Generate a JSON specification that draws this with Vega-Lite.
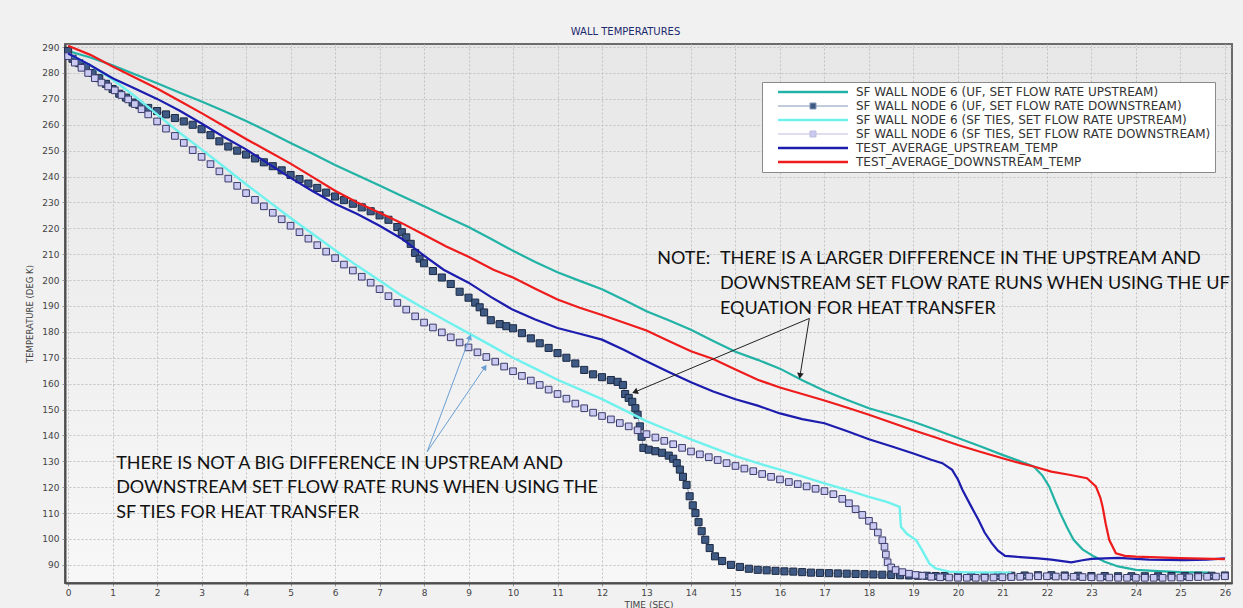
{
  "$schema": "https://vega.github.io/schema/vega-lite/v6.json",
  "width": 1167,
  "height": 539,
  "autosize": {"type": "none"},
  "padding": {"left": 65, "top": 44, "right": 11, "bottom": 25},
  "background": "#f1f1f1",
  "title": {"text": "WALL TEMPERATURES", "anchor": "middle", "offset": 4, "dx": -23, "font": "DejaVu Sans", "fontSize": 10, "fontWeight": "normal", "color": "#1c2a6e"},
  "config": {
    "view": {"stroke": "#6b6b6b", "strokeWidth": 2, "fill": {"gradient": "linear", "x1": 0, "y1": 0, "x2": 0, "y2": 1, "stops": [{"offset": 0, "color": "#e7e7e7"}, {"offset": 1, "color": "#f7f7f7"}]}},
    "axis": {"labelFont": "DejaVu Sans", "labelFontSize": 9, "labelColor": "#444444", "tickSize": 3, "tickColor": "#999999", "domainColor": "#4d4d4d", "domainWidth": 2, "gridColor": "#c2c2c2", "gridDash": [2, 2], "gridWidth": 1, "titleFont": "DejaVu Sans", "titleFontWeight": "normal", "titleColor": "#444444"}
  },
  "datasets": {
    "curves": [
      {"series":"UF_UP","time":0,"temp":288.5},{"series":"UF_UP","time":0.5,"temp":286},{"series":"UF_UP","time":1,"temp":283},{"series":"UF_UP","time":1.5,"temp":279.5},{"series":"UF_UP","time":2,"temp":276},{"series":"UF_UP","time":2.5,"temp":272.5},{"series":"UF_UP","time":3,"temp":269},{"series":"UF_UP","time":3.5,"temp":265.3},{"series":"UF_UP","time":4,"temp":261.5},{"series":"UF_UP","time":4.5,"temp":257.3},{"series":"UF_UP","time":5,"temp":253},{"series":"UF_UP","time":5.5,"temp":248.8},{"series":"UF_UP","time":6,"temp":244.5},{"series":"UF_UP","time":6.5,"temp":240.5},{"series":"UF_UP","time":7,"temp":236.5},{"series":"UF_UP","time":7.5,"temp":232.5},{"series":"UF_UP","time":8,"temp":228.5},{"series":"UF_UP","time":8.5,"temp":224.5},{"series":"UF_UP","time":9,"temp":220.5},{"series":"UF_UP","time":9.5,"temp":216},{"series":"UF_UP","time":10,"temp":211.3},{"series":"UF_UP","time":10.5,"temp":207},{"series":"UF_UP","time":11,"temp":203},{"series":"UF_UP","time":11.5,"temp":199.7},{"series":"UF_UP","time":12,"temp":196.5},{"series":"UF_UP","time":12.5,"temp":192.3},{"series":"UF_UP","time":13,"temp":188},{"series":"UF_UP","time":13.5,"temp":184.5},{"series":"UF_UP","time":14,"temp":180.8},{"series":"UF_UP","time":14.5,"temp":176.5},{"series":"UF_UP","time":15,"temp":172.3},{"series":"UF_UP","time":15.5,"temp":169.2},{"series":"UF_UP","time":16,"temp":165.8},{"series":"UF_UP","time":16.5,"temp":161.3},{"series":"UF_UP","time":17,"temp":157.3},{"series":"UF_UP","time":17.5,"temp":153.8},{"series":"UF_UP","time":18,"temp":150.5},{"series":"UF_UP","time":18.5,"temp":148},{"series":"UF_UP","time":19,"temp":145.3},{"series":"UF_UP","time":19.5,"temp":142.2},{"series":"UF_UP","time":20,"temp":139},{"series":"UF_UP","time":20.5,"temp":135.8},{"series":"UF_UP","time":21,"temp":132.5},{"series":"UF_UP","time":21.4,"temp":130},{"series":"UF_UP","time":21.7,"temp":128},{"series":"UF_UP","time":21.9,"temp":124.5},{"series":"UF_UP","time":22.05,"temp":120.3},{"series":"UF_UP","time":22.2,"temp":114},{"series":"UF_UP","time":22.3,"temp":110},{"series":"UF_UP","time":22.45,"temp":104.5},{"series":"UF_UP","time":22.6,"temp":99.7},{"series":"UF_UP","time":22.8,"temp":96},{"series":"UF_UP","time":23.05,"temp":93.3},{"series":"UF_UP","time":23.3,"temp":91.2},{"series":"UF_UP","time":23.6,"temp":89.4},{"series":"UF_UP","time":24,"temp":88.1},{"series":"UF_UP","time":24.5,"temp":87.6},{"series":"UF_UP","time":25,"temp":87.2},{"series":"UF_UP","time":25.65,"temp":87},
      {"series":"UF_DOWN","time":0,"temp":288.5},{"series":"UF_DOWN","time":0.1,"temp":285.5},{"series":"UF_DOWN","time":0.25,"temp":283.8},{"series":"UF_DOWN","time":0.4,"temp":282.3},{"series":"UF_DOWN","time":0.55,"temp":280},{"series":"UF_DOWN","time":0.7,"temp":278},{"series":"UF_DOWN","time":0.85,"temp":275.8},{"series":"UF_DOWN","time":1,"temp":273.8},{"series":"UF_DOWN","time":1.15,"temp":272},{"series":"UF_DOWN","time":1.3,"temp":270.5},{"series":"UF_DOWN","time":1.45,"temp":268.6},{"series":"UF_DOWN","time":1.6,"temp":267.6},{"series":"UF_DOWN","time":1.8,"temp":266.5},{"series":"UF_DOWN","time":2,"temp":265.3},{"series":"UF_DOWN","time":2.2,"temp":264},{"series":"UF_DOWN","time":2.4,"temp":262.6},{"series":"UF_DOWN","time":2.6,"temp":261.3},{"series":"UF_DOWN","time":2.8,"temp":260},{"series":"UF_DOWN","time":3,"temp":258.3},{"series":"UF_DOWN","time":3.2,"temp":256},{"series":"UF_DOWN","time":3.4,"temp":253.6},{"series":"UF_DOWN","time":3.6,"temp":251.6},{"series":"UF_DOWN","time":3.8,"temp":250},{"series":"UF_DOWN","time":4,"temp":248.5},{"series":"UF_DOWN","time":4.2,"temp":247},{"series":"UF_DOWN","time":4.4,"temp":245.5},{"series":"UF_DOWN","time":4.6,"temp":244},{"series":"UF_DOWN","time":4.8,"temp":242.4},{"series":"UF_DOWN","time":5,"temp":240.6},{"series":"UF_DOWN","time":5.2,"temp":239},{"series":"UF_DOWN","time":5.4,"temp":237.3},{"series":"UF_DOWN","time":5.6,"temp":235.6},{"series":"UF_DOWN","time":5.8,"temp":233.8},{"series":"UF_DOWN","time":6,"temp":232.3},{"series":"UF_DOWN","time":6.2,"temp":230.9},{"series":"UF_DOWN","time":6.4,"temp":229.5},{"series":"UF_DOWN","time":6.6,"temp":228.1},{"series":"UF_DOWN","time":6.8,"temp":226.6},{"series":"UF_DOWN","time":7,"temp":225},{"series":"UF_DOWN","time":7.2,"temp":223.3},{"series":"UF_DOWN","time":7.4,"temp":220.5},{"series":"UF_DOWN","time":7.5,"temp":218.5},{"series":"UF_DOWN","time":7.6,"temp":216.5},{"series":"UF_DOWN","time":7.7,"temp":214},{"series":"UF_DOWN","time":7.8,"temp":210.5},{"series":"UF_DOWN","time":7.9,"temp":208.3},{"series":"UF_DOWN","time":8,"temp":206.5},{"series":"UF_DOWN","time":8.2,"temp":203.5},{"series":"UF_DOWN","time":8.4,"temp":201},{"series":"UF_DOWN","time":8.6,"temp":198.5},{"series":"UF_DOWN","time":8.8,"temp":195.5},{"series":"UF_DOWN","time":9,"temp":193.2},{"series":"UF_DOWN","time":9.15,"temp":191.3},{"series":"UF_DOWN","time":9.25,"temp":189.5},{"series":"UF_DOWN","time":9.35,"temp":187.5},{"series":"UF_DOWN","time":9.5,"temp":184.5},{"series":"UF_DOWN","time":9.7,"temp":183},{"series":"UF_DOWN","time":9.85,"temp":182.2},{"series":"UF_DOWN","time":10,"temp":181.4},{"series":"UF_DOWN","time":10.2,"temp":179.5},{"series":"UF_DOWN","time":10.4,"temp":177.5},{"series":"UF_DOWN","time":10.6,"temp":175.6},{"series":"UF_DOWN","time":10.8,"temp":173.8},{"series":"UF_DOWN","time":11,"temp":171.8},{"series":"UF_DOWN","time":11.2,"temp":170},{"series":"UF_DOWN","time":11.4,"temp":167.8},{"series":"UF_DOWN","time":11.6,"temp":165.3},{"series":"UF_DOWN","time":11.8,"temp":163.6},{"series":"UF_DOWN","time":12,"temp":162.5},{"series":"UF_DOWN","time":12.2,"temp":161.4},{"series":"UF_DOWN","time":12.35,"temp":160.7},{"series":"UF_DOWN","time":12.47,"temp":159.5},{"series":"UF_DOWN","time":12.52,"temp":156},{"series":"UF_DOWN","time":12.6,"temp":154.5},{"series":"UF_DOWN","time":12.68,"temp":153},{"series":"UF_DOWN","time":12.75,"temp":150.5},{"series":"UF_DOWN","time":12.8,"temp":148},{"series":"UF_DOWN","time":12.85,"temp":143.5},{"series":"UF_DOWN","time":12.89,"temp":139.5},{"series":"UF_DOWN","time":12.93,"temp":135.2},{"series":"UF_DOWN","time":13.05,"temp":134.5},{"series":"UF_DOWN","time":13.2,"temp":133.9},{"series":"UF_DOWN","time":13.35,"temp":133.3},{"series":"UF_DOWN","time":13.5,"temp":132.2},{"series":"UF_DOWN","time":13.6,"temp":131},{"series":"UF_DOWN","time":13.68,"temp":129.3},{"series":"UF_DOWN","time":13.75,"temp":126.8},{"series":"UF_DOWN","time":13.82,"temp":124},{"series":"UF_DOWN","time":13.9,"temp":120.9},{"series":"UF_DOWN","time":13.97,"temp":116.5},{"series":"UF_DOWN","time":14.04,"temp":113},{"series":"UF_DOWN","time":14.1,"temp":110},{"series":"UF_DOWN","time":14.17,"temp":106.5},{"series":"UF_DOWN","time":14.24,"temp":103},{"series":"UF_DOWN","time":14.32,"temp":99.7},{"series":"UF_DOWN","time":14.42,"temp":96.5},{"series":"UF_DOWN","time":14.54,"temp":93.3},{"series":"UF_DOWN","time":14.7,"temp":91.5},{"series":"UF_DOWN","time":14.9,"temp":90},{"series":"UF_DOWN","time":15.1,"temp":89.2},{"series":"UF_DOWN","time":15.3,"temp":88.5},{"series":"UF_DOWN","time":15.5,"temp":88.1},{"series":"UF_DOWN","time":15.7,"temp":87.9},{"series":"UF_DOWN","time":15.9,"temp":87.7},{"series":"UF_DOWN","time":16.1,"temp":87.5},{"series":"UF_DOWN","time":16.3,"temp":87.4},{"series":"UF_DOWN","time":16.5,"temp":87.2},{"series":"UF_DOWN","time":16.7,"temp":87},{"series":"UF_DOWN","time":16.9,"temp":86.9},{"series":"UF_DOWN","time":17.1,"temp":86.8},{"series":"UF_DOWN","time":17.3,"temp":86.7},{"series":"UF_DOWN","time":17.5,"temp":86.6},{"series":"UF_DOWN","time":17.7,"temp":86.5},{"series":"UF_DOWN","time":17.9,"temp":86.4},{"series":"UF_DOWN","time":18.1,"temp":86.3},{"series":"UF_DOWN","time":18.3,"temp":86.2},{"series":"UF_DOWN","time":18.5,"temp":86.1},{"series":"UF_DOWN","time":18.7,"temp":86},{"series":"UF_DOWN","time":18.9,"temp":85.9},{"series":"UF_DOWN","time":19.1,"temp":85.8},{"series":"UF_DOWN","time":19.3,"temp":85.8},{"series":"UF_DOWN","time":19.5,"temp":85.7},{"series":"UF_DOWN","time":19.7,"temp":85.7},{"series":"UF_DOWN","time":20,"temp":85.7},{"series":"UF_DOWN","time":20.3,"temp":85.6},{"series":"UF_DOWN","time":20.6,"temp":85.7},{"series":"UF_DOWN","time":20.9,"temp":85.8},{"series":"UF_DOWN","time":21.2,"temp":85.8},{"series":"UF_DOWN","time":21.5,"temp":85.9},{"series":"UF_DOWN","time":21.8,"temp":86},{"series":"UF_DOWN","time":22.1,"temp":86},{"series":"UF_DOWN","time":22.4,"temp":85.9},{"series":"UF_DOWN","time":22.7,"temp":85.8},{"series":"UF_DOWN","time":23,"temp":85.7},{"series":"UF_DOWN","time":23.3,"temp":85.7},{"series":"UF_DOWN","time":23.6,"temp":85.6},{"series":"UF_DOWN","time":23.9,"temp":85.6},{"series":"UF_DOWN","time":24.2,"temp":85.6},{"series":"UF_DOWN","time":24.5,"temp":85.6},{"series":"UF_DOWN","time":24.8,"temp":85.7},{"series":"UF_DOWN","time":25.1,"temp":85.7},{"series":"UF_DOWN","time":25.4,"temp":85.8},{"series":"UF_DOWN","time":25.7,"temp":85.8},{"series":"UF_DOWN","time":26,"temp":85.9},
      {"series":"SF_UP","time":0,"temp":287.5},{"series":"SF_UP","time":0.5,"temp":283},{"series":"SF_UP","time":1,"temp":277.5},{"series":"SF_UP","time":1.5,"temp":271},{"series":"SF_UP","time":2,"temp":264},{"series":"SF_UP","time":2.5,"temp":257},{"series":"SF_UP","time":3,"temp":250.5},{"series":"SF_UP","time":3.5,"temp":243.8},{"series":"SF_UP","time":4,"temp":237},{"series":"SF_UP","time":4.5,"temp":230.5},{"series":"SF_UP","time":5,"temp":224},{"series":"SF_UP","time":5.5,"temp":217.8},{"series":"SF_UP","time":6,"temp":211.5},{"series":"SF_UP","time":6.5,"temp":205.5},{"series":"SF_UP","time":7,"temp":199.8},{"series":"SF_UP","time":7.5,"temp":194},{"series":"SF_UP","time":8,"temp":189},{"series":"SF_UP","time":8.5,"temp":184.2},{"series":"SF_UP","time":9,"temp":179.5},{"series":"SF_UP","time":9.5,"temp":174.8},{"series":"SF_UP","time":10,"temp":170},{"series":"SF_UP","time":10.5,"temp":165.8},{"series":"SF_UP","time":11,"temp":161.5},{"series":"SF_UP","time":11.5,"temp":157.8},{"series":"SF_UP","time":12,"temp":154},{"series":"SF_UP","time":12.5,"temp":149.8},{"series":"SF_UP","time":13,"temp":145.5},{"series":"SF_UP","time":13.5,"temp":142},{"series":"SF_UP","time":14,"temp":138.5},{"series":"SF_UP","time":14.5,"temp":135.2},{"series":"SF_UP","time":15,"temp":132},{"series":"SF_UP","time":15.5,"temp":129.3},{"series":"SF_UP","time":16,"temp":126.8},{"series":"SF_UP","time":16.5,"temp":124.2},{"series":"SF_UP","time":17,"temp":121.5},{"series":"SF_UP","time":17.5,"temp":119},{"series":"SF_UP","time":18,"temp":116.3},{"series":"SF_UP","time":18.4,"temp":114.3},{"series":"SF_UP","time":18.69,"temp":112.4},{"series":"SF_UP","time":18.72,"temp":104.7},{"series":"SF_UP","time":18.85,"temp":102},{"series":"SF_UP","time":19.06,"temp":99.6},{"series":"SF_UP","time":19.2,"temp":95.5},{"series":"SF_UP","time":19.36,"temp":90.5},{"series":"SF_UP","time":19.5,"temp":88.6},{"series":"SF_UP","time":19.8,"temp":87.4},{"series":"SF_UP","time":20.2,"temp":87.1},{"series":"SF_UP","time":20.6,"temp":87.1},{"series":"SF_UP","time":21.2,"temp":87},
      {"series":"SF_DOWN","time":0,"temp":286.5},{"series":"SF_DOWN","time":0.15,"temp":284},{"series":"SF_DOWN","time":0.3,"temp":282},{"series":"SF_DOWN","time":0.45,"temp":280},{"series":"SF_DOWN","time":0.6,"temp":278},{"series":"SF_DOWN","time":0.75,"temp":276.3},{"series":"SF_DOWN","time":0.9,"temp":274.8},{"series":"SF_DOWN","time":1.05,"temp":273.3},{"series":"SF_DOWN","time":1.2,"temp":271.5},{"series":"SF_DOWN","time":1.35,"temp":269.8},{"series":"SF_DOWN","time":1.5,"temp":268},{"series":"SF_DOWN","time":1.65,"temp":266},{"series":"SF_DOWN","time":1.8,"temp":264},{"series":"SF_DOWN","time":2,"temp":261.3},{"series":"SF_DOWN","time":2.2,"temp":258.5},{"series":"SF_DOWN","time":2.4,"temp":255.7},{"series":"SF_DOWN","time":2.6,"temp":253},{"series":"SF_DOWN","time":2.8,"temp":250.2},{"series":"SF_DOWN","time":3,"temp":247.6},{"series":"SF_DOWN","time":3.2,"temp":244.8},{"series":"SF_DOWN","time":3.4,"temp":242},{"series":"SF_DOWN","time":3.6,"temp":239.2},{"series":"SF_DOWN","time":3.8,"temp":236.4},{"series":"SF_DOWN","time":4,"temp":233.6},{"series":"SF_DOWN","time":4.2,"temp":231},{"series":"SF_DOWN","time":4.4,"temp":228.5},{"series":"SF_DOWN","time":4.6,"temp":226},{"series":"SF_DOWN","time":4.8,"temp":223.5},{"series":"SF_DOWN","time":5,"temp":221},{"series":"SF_DOWN","time":5.2,"temp":218.5},{"series":"SF_DOWN","time":5.4,"temp":216},{"series":"SF_DOWN","time":5.6,"temp":213.5},{"series":"SF_DOWN","time":5.8,"temp":211},{"series":"SF_DOWN","time":6,"temp":208.5},{"series":"SF_DOWN","time":6.2,"temp":206},{"series":"SF_DOWN","time":6.4,"temp":203.7},{"series":"SF_DOWN","time":6.6,"temp":201.3},{"series":"SF_DOWN","time":6.8,"temp":199},{"series":"SF_DOWN","time":7,"temp":196.5},{"series":"SF_DOWN","time":7.2,"temp":193.8},{"series":"SF_DOWN","time":7.4,"temp":191.2},{"series":"SF_DOWN","time":7.6,"temp":188.6},{"series":"SF_DOWN","time":7.8,"temp":186},{"series":"SF_DOWN","time":8,"temp":183.6},{"series":"SF_DOWN","time":8.2,"temp":181.7},{"series":"SF_DOWN","time":8.4,"temp":179.8},{"series":"SF_DOWN","time":8.6,"temp":177.9},{"series":"SF_DOWN","time":8.8,"temp":175.9},{"series":"SF_DOWN","time":9,"temp":174},{"series":"SF_DOWN","time":9.2,"temp":172.1},{"series":"SF_DOWN","time":9.4,"temp":170.3},{"series":"SF_DOWN","time":9.6,"temp":168.5},{"series":"SF_DOWN","time":9.8,"temp":166.6},{"series":"SF_DOWN","time":10,"temp":164.8},{"series":"SF_DOWN","time":10.2,"temp":163},{"series":"SF_DOWN","time":10.4,"temp":161.2},{"series":"SF_DOWN","time":10.6,"temp":159.5},{"series":"SF_DOWN","time":10.8,"temp":157.7},{"series":"SF_DOWN","time":11,"temp":156},{"series":"SF_DOWN","time":11.2,"temp":154.2},{"series":"SF_DOWN","time":11.4,"temp":152.3},{"series":"SF_DOWN","time":11.6,"temp":150.5},{"series":"SF_DOWN","time":11.8,"temp":148.8},{"series":"SF_DOWN","time":12,"temp":147.5},{"series":"SF_DOWN","time":12.2,"temp":146.2},{"series":"SF_DOWN","time":12.4,"temp":144.8},{"series":"SF_DOWN","time":12.6,"temp":143.5},{"series":"SF_DOWN","time":12.8,"temp":142},{"series":"SF_DOWN","time":13,"temp":140.5},{"series":"SF_DOWN","time":13.2,"temp":139.2},{"series":"SF_DOWN","time":13.4,"temp":137.9},{"series":"SF_DOWN","time":13.6,"temp":136.6},{"series":"SF_DOWN","time":13.8,"temp":135.2},{"series":"SF_DOWN","time":14,"temp":133.8},{"series":"SF_DOWN","time":14.2,"temp":132.7},{"series":"SF_DOWN","time":14.4,"temp":131.6},{"series":"SF_DOWN","time":14.6,"temp":130.5},{"series":"SF_DOWN","time":14.8,"temp":129.3},{"series":"SF_DOWN","time":15,"temp":128.2},{"series":"SF_DOWN","time":15.2,"temp":127.2},{"series":"SF_DOWN","time":15.4,"temp":126.2},{"series":"SF_DOWN","time":15.6,"temp":125.1},{"series":"SF_DOWN","time":15.8,"temp":124},{"series":"SF_DOWN","time":16,"temp":123},{"series":"SF_DOWN","time":16.2,"temp":122},{"series":"SF_DOWN","time":16.4,"temp":121.2},{"series":"SF_DOWN","time":16.6,"temp":120.3},{"series":"SF_DOWN","time":16.8,"temp":119.4},{"series":"SF_DOWN","time":17,"temp":118.5},{"series":"SF_DOWN","time":17.2,"temp":117.3},{"series":"SF_DOWN","time":17.4,"temp":115.5},{"series":"SF_DOWN","time":17.55,"temp":113.8},{"series":"SF_DOWN","time":17.7,"temp":111.5},{"series":"SF_DOWN","time":17.85,"temp":109.3},{"series":"SF_DOWN","time":18,"temp":107},{"series":"SF_DOWN","time":18.1,"temp":105},{"series":"SF_DOWN","time":18.2,"temp":102.5},{"series":"SF_DOWN","time":18.3,"temp":99.5},{"series":"SF_DOWN","time":18.35,"temp":97},{"series":"SF_DOWN","time":18.38,"temp":94},{"series":"SF_DOWN","time":18.42,"temp":91},{"series":"SF_DOWN","time":18.5,"temp":89},{"series":"SF_DOWN","time":18.6,"temp":88},{"series":"SF_DOWN","time":18.75,"temp":87.2},{"series":"SF_DOWN","time":18.9,"temp":86.6},{"series":"SF_DOWN","time":19.05,"temp":86.1},{"series":"SF_DOWN","time":19.2,"temp":85.8},{"series":"SF_DOWN","time":19.4,"temp":85.4},{"series":"SF_DOWN","time":19.6,"temp":85.2},{"series":"SF_DOWN","time":19.8,"temp":85.1},{"series":"SF_DOWN","time":20,"temp":85},{"series":"SF_DOWN","time":20.2,"temp":85},{"series":"SF_DOWN","time":20.4,"temp":85},{"series":"SF_DOWN","time":20.6,"temp":85},{"series":"SF_DOWN","time":20.8,"temp":85.1},{"series":"SF_DOWN","time":21,"temp":85.2},{"series":"SF_DOWN","time":21.2,"temp":85.3},{"series":"SF_DOWN","time":21.4,"temp":85.4},{"series":"SF_DOWN","time":21.6,"temp":85.5},{"series":"SF_DOWN","time":21.8,"temp":85.6},{"series":"SF_DOWN","time":22,"temp":85.6},{"series":"SF_DOWN","time":22.2,"temp":85.5},{"series":"SF_DOWN","time":22.4,"temp":85.5},{"series":"SF_DOWN","time":22.6,"temp":85.4},{"series":"SF_DOWN","time":22.8,"temp":85.3},{"series":"SF_DOWN","time":23,"temp":85.2},{"series":"SF_DOWN","time":23.2,"temp":85.1},{"series":"SF_DOWN","time":23.4,"temp":85.1},{"series":"SF_DOWN","time":23.6,"temp":85},{"series":"SF_DOWN","time":23.8,"temp":85},{"series":"SF_DOWN","time":24,"temp":85},{"series":"SF_DOWN","time":24.2,"temp":85},{"series":"SF_DOWN","time":24.4,"temp":85},{"series":"SF_DOWN","time":24.6,"temp":85},{"series":"SF_DOWN","time":24.8,"temp":85.1},{"series":"SF_DOWN","time":25,"temp":85.1},{"series":"SF_DOWN","time":25.2,"temp":85.2},{"series":"SF_DOWN","time":25.4,"temp":85.3},{"series":"SF_DOWN","time":25.6,"temp":85.4},{"series":"SF_DOWN","time":25.8,"temp":85.5},{"series":"SF_DOWN","time":26,"temp":85.6},
      {"series":"TEST_UP","time":0,"temp":287.5},{"series":"TEST_UP","time":0.5,"temp":283},{"series":"TEST_UP","time":1,"temp":278},{"series":"TEST_UP","time":1.5,"temp":274},{"series":"TEST_UP","time":2,"temp":270},{"series":"TEST_UP","time":2.5,"temp":265.5},{"series":"TEST_UP","time":3,"temp":260.5},{"series":"TEST_UP","time":3.5,"temp":255.3},{"series":"TEST_UP","time":4,"temp":250.5},{"series":"TEST_UP","time":4.5,"temp":245},{"series":"TEST_UP","time":5,"temp":239.5},{"series":"TEST_UP","time":5.5,"temp":234.3},{"series":"TEST_UP","time":6,"temp":229.5},{"series":"TEST_UP","time":6.5,"temp":225.5},{"series":"TEST_UP","time":7,"temp":221},{"series":"TEST_UP","time":7.5,"temp":216},{"series":"TEST_UP","time":8,"temp":209.5},{"series":"TEST_UP","time":8.44,"temp":204},{"series":"TEST_UP","time":9,"temp":199},{"series":"TEST_UP","time":9.5,"temp":193.5},{"series":"TEST_UP","time":10,"temp":188.5},{"series":"TEST_UP","time":10.5,"temp":184.8},{"series":"TEST_UP","time":11,"temp":181.5},{"series":"TEST_UP","time":11.5,"temp":179.3},{"series":"TEST_UP","time":12,"temp":177},{"series":"TEST_UP","time":12.5,"temp":173},{"series":"TEST_UP","time":12.93,"temp":169.2},{"series":"TEST_UP","time":13.5,"temp":164.5},{"series":"TEST_UP","time":14,"temp":160.5},{"series":"TEST_UP","time":14.5,"temp":157},{"series":"TEST_UP","time":15,"temp":154},{"series":"TEST_UP","time":15.5,"temp":151.5},{"series":"TEST_UP","time":16,"temp":148.5},{"series":"TEST_UP","time":16.5,"temp":146.3},{"series":"TEST_UP","time":17,"temp":144.7},{"series":"TEST_UP","time":17.5,"temp":141.7},{"series":"TEST_UP","time":18,"temp":138.5},{"series":"TEST_UP","time":18.5,"temp":135.8},{"series":"TEST_UP","time":19,"temp":133},{"series":"TEST_UP","time":19.4,"temp":130.6},{"series":"TEST_UP","time":19.65,"temp":129.3},{"series":"TEST_UP","time":19.87,"temp":126.7},{"series":"TEST_UP","time":20,"temp":123},{"series":"TEST_UP","time":20.1,"temp":119},{"series":"TEST_UP","time":20.3,"temp":112.5},{"series":"TEST_UP","time":20.46,"temp":107.4},{"series":"TEST_UP","time":20.6,"temp":102.5},{"series":"TEST_UP","time":20.76,"temp":98.4},{"series":"TEST_UP","time":20.9,"temp":95.5},{"series":"TEST_UP","time":21.06,"temp":93.5},{"series":"TEST_UP","time":21.4,"temp":93},{"series":"TEST_UP","time":21.8,"temp":92.5},{"series":"TEST_UP","time":22.1,"temp":92},{"series":"TEST_UP","time":22.55,"temp":91},{"series":"TEST_UP","time":22.8,"temp":91.8},{"series":"TEST_UP","time":23,"temp":92.3},{"series":"TEST_UP","time":23.6,"temp":92.7},{"series":"TEST_UP","time":24.3,"temp":92},{"series":"TEST_UP","time":25.1,"temp":91.8},{"series":"TEST_UP","time":25.6,"temp":92},{"series":"TEST_UP","time":26,"temp":92.5},
      {"series":"TEST_DOWN","time":0,"temp":290.5},{"series":"TEST_DOWN","time":0.5,"temp":287},{"series":"TEST_DOWN","time":1,"temp":282.5},{"series":"TEST_DOWN","time":1.5,"temp":278.3},{"series":"TEST_DOWN","time":2,"temp":274},{"series":"TEST_DOWN","time":2.5,"temp":269.3},{"series":"TEST_DOWN","time":3,"temp":264.5},{"series":"TEST_DOWN","time":3.5,"temp":259.5},{"series":"TEST_DOWN","time":4,"temp":254.5},{"series":"TEST_DOWN","time":4.5,"temp":249.8},{"series":"TEST_DOWN","time":5,"temp":245},{"series":"TEST_DOWN","time":5.5,"temp":239.8},{"series":"TEST_DOWN","time":6,"temp":234.5},{"series":"TEST_DOWN","time":6.5,"temp":230},{"series":"TEST_DOWN","time":7,"temp":226},{"series":"TEST_DOWN","time":7.5,"temp":222},{"series":"TEST_DOWN","time":8,"temp":217.5},{"series":"TEST_DOWN","time":8.5,"temp":213},{"series":"TEST_DOWN","time":9,"temp":209},{"series":"TEST_DOWN","time":9.56,"temp":204},{"series":"TEST_DOWN","time":10,"temp":201},{"series":"TEST_DOWN","time":10.5,"temp":196.7},{"series":"TEST_DOWN","time":11,"temp":192.5},{"series":"TEST_DOWN","time":11.5,"temp":189.3},{"series":"TEST_DOWN","time":12,"temp":186.5},{"series":"TEST_DOWN","time":12.5,"temp":183.5},{"series":"TEST_DOWN","time":13,"temp":180.5},{"series":"TEST_DOWN","time":13.5,"temp":176.5},{"series":"TEST_DOWN","time":14,"temp":172.5},{"series":"TEST_DOWN","time":14.5,"temp":169.5},{"series":"TEST_DOWN","time":15,"temp":165.5},{"series":"TEST_DOWN","time":15.5,"temp":161.5},{"series":"TEST_DOWN","time":16,"temp":158.5},{"series":"TEST_DOWN","time":16.5,"temp":156},{"series":"TEST_DOWN","time":17,"temp":153.5},{"series":"TEST_DOWN","time":17.5,"temp":150.8},{"series":"TEST_DOWN","time":18,"temp":148},{"series":"TEST_DOWN","time":18.5,"temp":145},{"series":"TEST_DOWN","time":19,"temp":142},{"series":"TEST_DOWN","time":19.5,"temp":139.2},{"series":"TEST_DOWN","time":20,"temp":136.3},{"series":"TEST_DOWN","time":20.5,"temp":133.7},{"series":"TEST_DOWN","time":21,"temp":131.2},{"series":"TEST_DOWN","time":21.4,"temp":129.3},{"series":"TEST_DOWN","time":21.7,"temp":128},{"series":"TEST_DOWN","time":22.1,"temp":126},{"series":"TEST_DOWN","time":22.5,"temp":124.8},{"series":"TEST_DOWN","time":22.9,"temp":123.5},{"series":"TEST_DOWN","time":23.1,"temp":120.3},{"series":"TEST_DOWN","time":23.2,"temp":116},{"series":"TEST_DOWN","time":23.25,"temp":112.6},{"series":"TEST_DOWN","time":23.32,"temp":106},{"series":"TEST_DOWN","time":23.4,"temp":99.7},{"series":"TEST_DOWN","time":23.55,"temp":94.5},{"series":"TEST_DOWN","time":23.75,"temp":93.5},{"series":"TEST_DOWN","time":24,"temp":93.2},{"series":"TEST_DOWN","time":24.5,"temp":92.9},{"series":"TEST_DOWN","time":25,"temp":92.6},{"series":"TEST_DOWN","time":25.5,"temp":92.4},{"series":"TEST_DOWN","time":26,"temp":92.2}
    ],
    "notes": [
      {"time":13.24,"temp":208.3,"text":"NOTE:"},
      {"time":14.65,"temp":208.3,"text":"THERE IS A LARGER DIFFERENCE IN THE UPSTREAM AND"},
      {"time":14.65,"temp":198.5,"text":"DOWNSTREAM SET FLOW RATE RUNS WHEN USING THE UF"},
      {"time":14.65,"temp":188.7,"text":"EQUATION FOR HEAT TRANSFER"},
      {"time":1.08,"temp":129.1,"text":"THERE IS NOT A BIG DIFFERENCE IN UPSTREAM AND"},
      {"time":1.08,"temp":119.6,"text":"DOWNSTREAM SET FLOW RATE RUNS WHEN USING THE"},
      {"time":1.08,"temp":110,"text":"SF TIES FOR HEAT TRANSFER"}
    ],
    "arrows": [
      {"kind":"black","time":16.66,"temp":185.2,"time2":12.74,"temp2":156.8},
      {"kind":"black","time":16.66,"temp":185.2,"time2":16.45,"temp2":163},
      {"kind":"blue","time":8.07,"temp":133.7,"time2":9.03,"temp2":178},
      {"kind":"blue","time":8.07,"temp":133.7,"time2":9.37,"temp2":166.4}
    ]
  },
  "data": {"name": "curves"},
  "encoding": {
    "x": {"field": "time", "type": "quantitative", "scale": {"domain": [-0.07, 26.16], "nice": false, "zero": false},
      "axis": {"values": [0,1,2,3,4,5,6,7,8,9,10,11,12,13,14,15,16,17,18,19,20,21,22,23,24,25,26], "title": "TIME (SEC)", "titleFontSize": 9, "titlePadding": 3, "labelPadding": 2}},
    "y": {"field": "temp", "type": "quantitative", "scale": {"domain": [83, 291.2], "nice": false, "zero": false},
      "axis": {"values": [90,100,110,120,130,140,150,160,170,180,190,200,210,220,230,240,250,260,270,280,290], "title": "TEMPERATURE (DEG K)", "titleFontSize": 8.5, "titlePadding": 7, "labelPadding": 3}}
  },
  "layer": [
    {"transform": [{"filter": "datum.series == 'UF_UP'"}], "mark": {"type": "line", "strokeWidth": 2.2},
      "encoding": {"color": {"field": "series", "type": "nominal",
        "scale": {"domain": ["UF_UP", "UF_DOWN", "SF_UP", "SF_DOWN", "TEST_UP", "TEST_DOWN"], "range": ["#22b3a6", "#8496b8", "#6ff2ee", "#bdbddd", "#1c1cae", "#ee1c1c"]},
        "legend": {"title": null, "orient": "none", "legendX": 697, "legendY": 38, "direction": "vertical", "fillColor": "#ffffff", "strokeColor": "#8a8a8a", "padding": 4, "symbolSize": 100, "symbolOffset": 41, "labelOffset": 37, "rowPadding": 2, "labelFont": "DejaVu Sans", "labelFontSize": 12, "labelColor": "#333333", "labelLimit": 0,
          "labelExpr": "datum.value == 'UF_UP' ? 'SF WALL NODE 6 (UF, SET FLOW RATE UPSTREAM)' : datum.value == 'UF_DOWN' ? 'SF WALL NODE 6 (UF, SET FLOW RATE DOWNSTREAM)' : datum.value == 'SF_UP' ? 'SF WALL NODE 6 (SF TIES, SET FLOW RATE UPSTREAM)' : datum.value == 'SF_DOWN' ? 'SF WALL NODE 6 (SF TIES, SET FLOW RATE DOWNSTREAM)' : datum.value == 'TEST_UP' ? 'TEST_AVERAGE_UPSTREAM_TEMP' : 'TEST_AVERAGE_DOWNSTREAM_TEMP'",
          "encode": {"symbols": {"update": {
            "shape": {"signal": "datum.value == 'UF_DOWN' || datum.value == 'SF_DOWN' ? 'M-7,0H-0.6M0.6,0H7M-0.6,-0.6H0.6V0.6H-0.6Z' : 'M-7,0H7'"},
            "fill": {"signal": "datum.value == 'UF_DOWN' ? '#3e5a84' : datum.value == 'SF_DOWN' ? '#c8c8f0' : 'transparent'"},
            "stroke": {"signal": "datum.value == 'UF_DOWN' ? '#1c2a44' : datum.value == 'SF_DOWN' ? '#3c3c6c' : scale('color', datum.value)"},
            "strokeWidth": {"signal": "datum.value == 'UF_DOWN' || datum.value == 'SF_DOWN' ? 1 : 2.5"},
            "opacity": {"value": 1}
          }}}
        }}}},
    {"transform": [{"filter": "datum.series == 'UF_DOWN'"}], "mark": {"type": "line", "strokeWidth": 1}, "encoding": {"color": {"field": "series", "type": "nominal"}}},
    {"transform": [{"filter": "datum.series == 'UF_DOWN'"}], "mark": {"type": "point", "shape": "square", "filled": true, "fill": "#3e5a84", "stroke": "#1c2a44", "strokeWidth": 1, "size": 50, "opacity": 1}},
    {"transform": [{"filter": "datum.series == 'SF_UP'"}], "mark": {"type": "line", "strokeWidth": 2.4}, "encoding": {"color": {"field": "series", "type": "nominal"}}},
    {"transform": [{"filter": "datum.series == 'SF_DOWN'"}], "mark": {"type": "line", "strokeWidth": 1}, "encoding": {"color": {"field": "series", "type": "nominal"}}},
    {"transform": [{"filter": "datum.series == 'SF_DOWN'"}], "mark": {"type": "point", "shape": "square", "filled": true, "fill": "#c9c9f1", "stroke": "#3c3c6c", "strokeWidth": 1, "size": 44, "opacity": 1}},
    {"transform": [{"filter": "datum.series == 'TEST_UP'"}], "mark": {"type": "line", "strokeWidth": 2.2}, "encoding": {"color": {"field": "series", "type": "nominal"}}},
    {"transform": [{"filter": "datum.series == 'TEST_DOWN'"}], "mark": {"type": "line", "strokeWidth": 2.2}, "encoding": {"color": {"field": "series", "type": "nominal"}}},
    {"data": {"name": "arrows"}, "transform": [{"filter": "datum.kind == 'black'"}], "mark": {"type": "rule", "color": "#222222", "strokeWidth": 1},
      "encoding": {"x2": {"field": "time2"}, "y2": {"field": "temp2"}}},
    {"data": {"name": "arrows"}, "transform": [{"filter": "datum.kind == 'blue'"}], "mark": {"type": "rule", "color": "#6a9fd4", "strokeWidth": 1},
      "encoding": {"x2": {"field": "time2"}, "y2": {"field": "temp2"}}},
    {"data": {"name": "arrows"}, "transform": [{"filter": "datum.kind == 'black'"}, {"calculate": "atan2((datum.time2 - datum.time) * 44.49, (datum.temp2 - datum.temp) * 2.589) * 180 / PI", "as": "angle"}],
      "mark": {"type": "point", "shape": "triangle-up", "filled": true, "color": "#222222", "size": 45, "opacity": 1},
      "encoding": {"x": {"field": "time2", "type": "quantitative"}, "y": {"field": "temp2", "type": "quantitative"}, "angle": {"field": "angle", "type": "quantitative", "scale": null}}},
    {"data": {"name": "arrows"}, "transform": [{"filter": "datum.kind == 'blue'"}, {"calculate": "atan2((datum.time2 - datum.time) * 44.49, (datum.temp2 - datum.temp) * 2.589) * 180 / PI", "as": "angle"}],
      "mark": {"type": "point", "shape": "triangle-up", "filled": true, "color": "#6a9fd4", "size": 40, "opacity": 1},
      "encoding": {"x": {"field": "time2", "type": "quantitative"}, "y": {"field": "temp2", "type": "quantitative"}, "angle": {"field": "angle", "type": "quantitative", "scale": null}}},
    {"data": {"name": "notes"}, "mark": {"type": "text", "align": "left", "baseline": "middle", "font": "Lato", "fontSize": 18, "color": "#111111"},
      "encoding": {"text": {"field": "text", "type": "nominal"}}}
  ]
}
